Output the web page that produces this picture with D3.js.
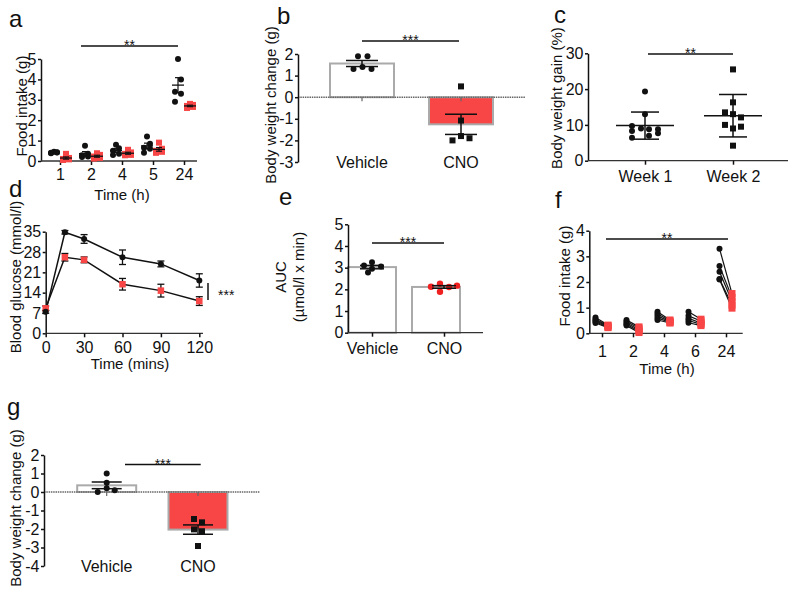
<!DOCTYPE html>
<html><head><meta charset="utf-8">
<script src="https://cdn.jsdelivr.net/npm/d3@7"></script>
<style>
body{margin:0;background:#fff;}
svg text{font-family:"Liberation Sans",Arial,sans-serif;fill:#111;}
</style></head><body>
<svg id="fig" width="800" height="592"></svg>
<script>
// ---------------- DATA ----------------
// Panel a: food intake (g), individual animals
const aTimes = ["1","2","4","5","24"];
const aVehicle = [[0.45,0.42,0.40,0.43,0.38],[0.75,0.35,0.28,0.22,0.20],[0.80,0.62,0.50,0.35,0.30],[1.20,0.85,0.65,0.60,0.40],[5.0,4.0,3.4,3.3,2.9]];
const aCNO = [[0.35,0.15,0.10,0.08,0.05],[0.38,0.30,0.22,0.15,0.12],[0.55,0.42,0.35,0.30,0.28],[0.90,0.60,0.50,0.45,0.40],[2.80,2.75,2.70,2.65,2.60]];
// Panel b: body weight change (g)
const bGroups = ["Vehicle","CNO"];
const bVehicle = [1.9,1.9,1.3,1.4,1.3];
const bCNO = [0.5,-1.08,-2.0,-1.8,-1.9];
// Panel c: body weight gain (%)
const cGroups = ["Week 1","Week 2"];
const cWeek1 = [19.3,13.0,9.7,9.0,8.8,8.8,8.3,7.7,7.0,6.4];
const cWeek2 = [25.5,16.3,13.5,13.0,12.1,10.0,9.5,9.0,4.2];
// Panel d: blood glucose (mmol/l), mean and SEM
const dTimes = [0,15,30,60,90,120];
const dVehicle = [7.4,34.8,32.5,26.2,23.9,18.2];
const dVehicleErr = [0.5,0.6,1.5,2.5,1.0,2.3];
const dCNO = [8.6,26.2,25.3,16.9,14.7,11.1];
const dCNOErr = [0.8,1.3,1.0,2.0,2.2,1.5];
// Panel e: AUC
const eGroups = ["Vehicle","CNO"];
const eVehicle = [3.25,3.10,3.05,2.95,2.78];
const eCNO = [2.12,2.26,2.11,2.17,1.89];
// Panel f: food intake (g), paired animals
const fTimes = ["1","2","4","6","24"];
const fVehicle = [[0.62,0.55,0.50,0.45,0.40],[0.52,0.46,0.40,0.35,0.30],[0.84,0.76,0.68,0.60,0.52],[0.84,0.68,0.58,0.50,0.41],[3.30,2.62,2.40,2.12,2.10]];
const fCNO = [[0.32,0.30,0.27,0.24,0.22],[0.25,0.20,0.14,0.08,0.03],[0.52,0.48,0.45,0.42,0.40],[0.55,0.48,0.40,0.35,0.30],[1.55,1.40,1.25,1.10,0.98]];
// Panel g: body weight change (g)
const gGroups = ["Vehicle","CNO"];
const gVehicle = [1.0,0.5,0.2,0.1,0.0];
const gCNO = [-1.46,-1.64,-2.02,-2.12,-2.92];

// ---------------- HELPERS ----------------
const RED = "#f84545";
const INK = "#111";
const TICK_FS = 16;
const svg = d3.select("#fig");
const mean = a => d3.mean(a);
const sem = a => d3.deviation(a) / Math.sqrt(a.length);
const sd = a => d3.deviation(a);

function styleAxis(g, fs) {
  g.select(".domain").attr("stroke", INK).attr("stroke-width", 1.5);
  g.selectAll(".tick line").attr("stroke", INK).attr("stroke-width", 1.5);
  g.selectAll(".tick text").attr("font-size", fs || TICK_FS).attr("fill", INK);
}
function leftAxis(scale, x, ticks, fs) {
  const g = svg.append("g").attr("transform", `translate(${x},0)`)
    .call(d3.axisLeft(scale).tickValues(ticks).tickSize(3).tickSizeOuter(0).tickPadding(1.5).tickFormat(d => String(d)));
  styleAxis(g, fs);
  return g;
}
function bottomAxis(scale, y, x0, x1, pad, fs, ticks) {
  svg.append("line").attr("x1", x0).attr("x2", x1).attr("y1", y).attr("y2", y)
    .attr("stroke", "#333").attr("stroke-width", 1.3);
  const ax = d3.axisBottom(scale).tickSize(4).tickSizeOuter(0).tickPadding(pad);
  if (ticks) ax.tickValues(ticks);
  const g = svg.append("g").attr("transform", `translate(0,${y})`).call(ax);
  g.select(".domain").remove();
  styleAxis(g, fs);
  return g;
}
function zeroLine(y, x0, x1) {
  svg.append("line").attr("x1", x0).attr("x2", x1).attr("y1", y).attr("y2", y)
    .attr("stroke", "#666").attr("stroke-width", 1.5).attr("stroke-dasharray", "1.5,0.8");
}
function panelLabel(t, x, y) {
  svg.append("text").attr("x", x).attr("y", y).attr("font-size", 24).text(t);
}
function yTitle(lines, x, y, fs) {
  const t = svg.append("text").attr("transform", `translate(${x},${y}) rotate(-90)`)
    .attr("text-anchor", "middle").attr("font-size", fs || 15);
  lines.forEach((l, i) => t.append("tspan").attr("x", 0).attr("dy", i === 0 ? "0.35em" : "1.15em").text(l));
  return t;
}
function xTitle(t, x, y) {
  svg.append("text").attr("x", x).attr("y", y).attr("text-anchor", "middle").attr("font-size", 15).text(t);
}
function catLabel(t, x, y) {
  svg.append("text").attr("x", x).attr("y", y).attr("text-anchor", "middle").attr("font-size", 16).text(t);
}
function sigBar(x0, x1, y, stars, fs) {
  svg.append("line").attr("x1", x0).attr("x2", x1).attr("y1", y).attr("y2", y)
    .attr("stroke", INK).attr("stroke-width", 1.5);
  svg.append("text").attr("x", (x0 + x1) / 2).attr("y", y + 4).attr("text-anchor", "middle")
    .attr("font-size", fs || 14).text(stars);
}
function errBar(x, yHi, yLo, cap, w) {
  const g = svg.append("g").attr("stroke", INK).attr("stroke-width", w || 1.5);
  g.append("line").attr("x1", x).attr("x2", x).attr("y1", yHi).attr("y2", yLo);
  g.append("line").attr("x1", x - cap).attr("x2", x + cap).attr("y1", yHi).attr("y2", yHi);
  g.append("line").attr("x1", x - cap).attr("x2", x + cap).attr("y1", yLo).attr("y2", yLo);
}
function dot(x, y, r, fill) {
  svg.append("circle").attr("cx", x).attr("cy", y).attr("r", r || 3).attr("fill", fill || INK);
}
function sq(x, y, s, fill) {
  s = s || 6;
  svg.append("rect").attr("x", x - s / 2).attr("y", y - s / 2).attr("width", s).attr("height", s).attr("fill", fill || INK);
}

// ---------------- PANEL a ----------------
(function () {
  const xa = d3.scalePoint(aTimes, [60, 184]);
  const ya = d3.scaleLinear([0, 5], [161, 59]);
  leftAxis(ya, 41, [0,1,2,3,4,5]);
  bottomAxis(xa, 161, 41, 197, 4);
  const jit = [0, 3, -3, 3, -3];
  aTimes.forEach((t, i) => {
    const xb = xa(t) - 6, xr = xa(t) + 6;
    aVehicle[i].forEach((v, j) => dot(xb + jit[j], ya(v), 3));
    aCNO[i].forEach((v, j) => sq(xr + jit[j], ya(v), 6, RED));
    [[aVehicle[i], xb], [aCNO[i], xr]].forEach(([arr, x]) => {
      const m = mean(arr), s = sem(arr);
      svg.append("line").attr("x1", x - 6).attr("x2", x + 6).attr("y1", ya(m)).attr("y2", ya(m)).attr("stroke", INK).attr("stroke-width", 1.3);
      errBar(x, ya(m + s), ya(m - s), 3, 1.2);
    });
  });
  sigBar(81, 178, 46, "**");
  yTitle(["Food intake (g)"], 21.5, 106);
  xTitle("Time (h)", 122, 200);
  panelLabel("a", 9, 27);
})();

// ---------------- PANEL b ----------------
(function () {
  const xb = d3.scalePoint(bGroups, [362, 461]);
  const yb = d3.scaleLinear([-3, 2], [162, 54]);
  const bw = 64;
  [[bVehicle, "#fff"], [bCNO, RED]].forEach(([arr, fill], i) => {
    const m = mean(arr), x = xb(bGroups[i]);
    svg.append("rect").attr("x", x - bw / 2).attr("width", bw)
      .attr("y", Math.min(yb(0), yb(m))).attr("height", Math.abs(yb(m) - yb(0)))
      .attr("fill", fill).attr("stroke", "#aaa").attr("stroke-width", 2);
  });
  zeroLine(yb(0), 298, 525);
  bGroups.forEach(g => svg.append("line").attr("x1", xb(g)).attr("x2", xb(g)).attr("y1", yb(0)).attr("y2", yb(0) + 4).attr("stroke", "#666").attr("stroke-width", 1.2));
  leftAxis(yb, 298, [-3,-2,-1,0,1,2]);
  const jv = [-4, 5.5, -8.5, 0.5, 9.5];
  bVehicle.forEach((v, j) => dot(xb("Vehicle") + jv[j], yb(v), 3));
  const jc = [0, 0, -8.5, 0, 8.5];
  bCNO.forEach((v, j) => sq(xb("CNO") + jc[j], yb(v), 6));
  [bVehicle, bCNO].forEach((arr, i) => {
    const m = mean(arr), s = sem(arr), x = xb(bGroups[i]);
    errBar(x, yb(m + s), yb(m - s), 16, 1.5);
  });
  bGroups.forEach(g => catLabel(g, xb(g), 168));
  sigBar(362, 459, 41, "***");
  yTitle(["Body weight change (g)"], 270.5, 105);
  panelLabel("b", 277, 24);
})();

// ---------------- PANEL c ----------------
(function () {
  const xc = d3.scalePoint(cGroups, [645, 733]);
  const yc = d3.scaleLinear([0, 30], [160.7, 53.3]);
  leftAxis(yc, 588, [0,10,20,30]);
  bottomAxis(xc, 160.7, 588, 788, 6);
  const j1 = [0, 0, -13, -4, 4, 13, -13, 13, 4, -13];
  const j2 = [0, 0, -8, 0, 8, -8, 8, 0, 0];
  cWeek1.forEach((v, j) => dot(xc("Week 1") + j1[j], yc(v), 3));
  cWeek2.forEach((v, j) => sq(xc("Week 2") + j2[j], yc(v), 6));
  [cWeek1, cWeek2].forEach((arr, i) => {
    const m = mean(arr), s = sd(arr), x = xc(cGroups[i]);
    svg.append("line").attr("x1", x - 29).attr("x2", x + 29).attr("y1", yc(m)).attr("y2", yc(m)).attr("stroke", INK).attr("stroke-width", 1.5);
    errBar(x, yc(m + s), yc(m - s), 14, 1.5);
  });
  sigBar(648, 733, 54, "**");
  yTitle(["Body weight gain (%)"], 557, 98);
  panelLabel("c", 554, 23);
})();

// ---------------- PANEL d ----------------
(function () {
  const xd = d3.scaleLinear([0, 120], [45.7, 199.3]);
  const yd = d3.scaleLinear([0, 35], [333.3, 231.7]);
  leftAxis(yd, 45.7, [0,7,14,21,28,35]);
  bottomAxis(xd, 333.3, 45.7, 203, 4, TICK_FS, [0,30,60,90,120]);
  const line = d3.line().x((d, i) => xd(dTimes[i])).y(d => yd(d));
  [[dVehicle, dVehicleErr], [dCNO, dCNOErr]].forEach(([vals, errs]) => {
    svg.append("path").attr("d", line(vals)).attr("fill", "none").attr("stroke", INK).attr("stroke-width", 1.5);
    vals.forEach((v, i) => errBar(xd(dTimes[i]), yd(v + errs[i]), yd(v - errs[i]), 3.5, 1.3));
  });
  dCNO.forEach((v, i) => sq(xd(dTimes[i]), yd(v), 6.5, RED));
  dVehicle.forEach((v, i) => dot(xd(dTimes[i]), yd(v), 3));
  svg.append("line").attr("x1", 208).attr("x2", 208).attr("y1", 283).attr("y2", 300).attr("stroke", INK).attr("stroke-width", 1.5);
  svg.append("text").attr("x", 218).attr("y", 300).attr("font-size", 14).text("***");
  yTitle(["Blood glucose (mmol/l)"], 15.5, 277);
  xTitle("Time (mins)", 130, 369);
  panelLabel("d", 9, 197);
})();

// ---------------- PANEL e ----------------
(function () {
  const xe = d3.scalePoint(eGroups, [372, 444]);
  const ye = d3.scaleLinear([0, 5], [332.7, 224.3]);
  const bw = 48;
  const barShift = [0, -8];
  [eVehicle, eCNO].forEach((arr, i) => {
    const m = mean(arr), x = xe(eGroups[i]) + barShift[i];
    svg.append("rect").attr("x", x - bw / 2).attr("width", bw).attr("y", ye(m)).attr("height", ye(0) - ye(m))
      .attr("fill", "#fff").attr("stroke", "#aaa").attr("stroke-width", 2);
  });
  leftAxis(ye, 348, [0,1,2,3,4,5]);
  bottomAxis(xe, 332.7, 348, 483, 6);
  const jv = [0, -8, 9, 0, -4];
  const jc = [-13, -4, 5, 13, -4];
  eVehicle.forEach((v, j) => dot(xe("Vehicle") + jv[j], ye(v), 3));
  eCNO.forEach((v, j) => dot(xe("CNO") + jc[j], ye(v), 3.2, "#f02020"));
  [eVehicle, eCNO].forEach((arr, i) => {
    const m = mean(arr), s = sem(arr), x = xe(eGroups[i]);
    errBar(x, ye(m + s), ye(m - s), 12, 1.5);
  });
  sigBar(372, 444, 243, "***");
  yTitle(["AUC", "(\u00b5mol/l x min)"], 281, 277);
  panelLabel("e", 279, 205);
})();

// ---------------- PANEL f ----------------
(function () {
  const xf = d3.scalePoint(fTimes, [602, 726]);
  const yf = d3.scaleLinear([0, 4], [333.3, 230.7]);
  leftAxis(yf, 589.3, [0,1,2,3,4]);
  bottomAxis(xf, 333.3, 589.3, 742.7, 8);
  fTimes.forEach((t, i) => {
    const xb = xf(t) - 6.5, xr = xf(t) + 6;
    fVehicle[i].forEach((v, j) => {
      svg.append("line").attr("x1", xb).attr("x2", xr).attr("y1", yf(v)).attr("y2", yf(fCNO[i][j]))
        .attr("stroke", INK).attr("stroke-width", 1.2);
    });
    fCNO[i].forEach(v => sq(xr, yf(v), 7, RED));
    fVehicle[i].forEach(v => dot(xb, yf(v), 3));
  });
  sigBar(606, 728, 239, "**");
  yTitle(["Food intake (g)"], 565, 276);
  xTitle("Time (h)", 667, 374);
  panelLabel("f", 555, 208);
})();

// ---------------- PANEL g ----------------
(function () {
  const xg = d3.scalePoint(gGroups, [106.7, 198]);
  const yg = d3.scaleLinear([-4, 2], [566, 455]);
  const bw = 59;
  [[gVehicle, "#fff"], [gCNO, RED]].forEach(([arr, fill], i) => {
    const m = mean(arr), x = xg(gGroups[i]);
    svg.append("rect").attr("x", x - bw / 2).attr("width", bw)
      .attr("y", Math.min(yg(0), yg(m))).attr("height", Math.abs(yg(m) - yg(0)))
      .attr("fill", fill).attr("stroke", "#aaa").attr("stroke-width", 2);
  });
  zeroLine(yg(0), 44, 260);
  gGroups.forEach(g => svg.append("line").attr("x1", xg(g)).attr("x2", xg(g)).attr("y1", yg(0)).attr("y2", yg(0) + 4).attr("stroke", "#666").attr("stroke-width", 1.2));
  leftAxis(yg, 44, [-4,-3,-2,-1,0,1,2]);
  const jv = [0, 0, 0, 8, -9];
  gVehicle.forEach((v, j) => dot(xg("Vehicle") + jv[j], yg(v), 3));
  const jc = [-4, 4, -4, 4, 0];
  gCNO.forEach((v, j) => sq(xg("CNO") + jc[j], yg(v), 6));
  [gVehicle, gCNO].forEach((arr, i) => {
    const m = mean(arr), s = sem(arr), x = xg(gGroups[i]);
    errBar(x, yg(m + s), yg(m - s), 15, 1.5);
  });
  gGroups.forEach(g => catLabel(g, xg(g), 572));
  sigBar(125, 200.7, 464.5, "***");
  yTitle(["Body weight change (g)"], 15.5, 508);
  panelLabel("g", 7, 415);
})();
</script>
</body></html>
